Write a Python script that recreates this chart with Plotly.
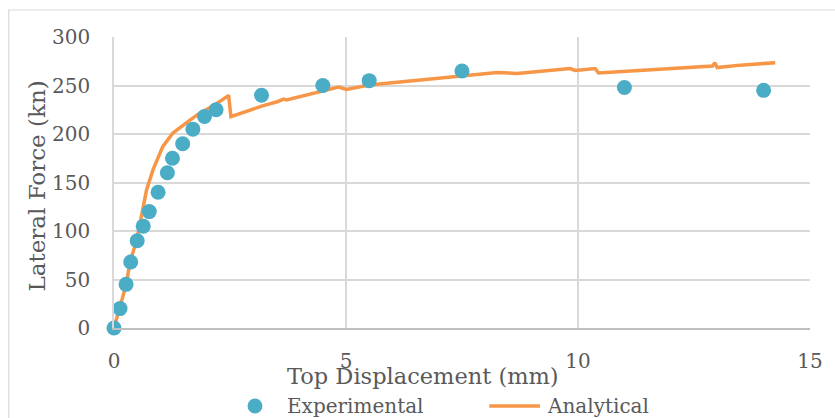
import plotly.graph_objects as go

# Experimental pushover test readings
exp_disp = [0, 0.13, 0.26, 0.36, 0.50, 0.63, 0.76, 0.95, 1.15, 1.26, 1.48, 1.70,
            1.95, 2.20, 3.18, 4.50, 5.50, 7.50, 11.0, 14.0]
exp_force = [0, 20, 45, 68, 90, 105, 120, 140, 160, 175, 190, 205,
             218, 225, 240, 250, 255, 265, 248, 245]

# Analytical (numerical model) capacity curve
ana_disp = [0, 0.13, 0.27, 0.34, 0.49, 0.59, 0.70, 0.84, 0.95, 1.05, 1.27, 1.45,
            1.63, 1.80, 1.98, 2.20, 2.45, 2.47, 2.52, 2.98, 3.20, 3.50, 3.66,
            3.72, 3.98, 4.49, 4.84, 5.01, 5.50, 6.05, 7.05, 7.50, 8.26, 8.69,
            9.33, 9.83, 9.94, 10.33, 10.37, 10.44, 11.0, 12.0, 12.9, 12.95,
            13.0, 13.5, 14.25]
ana_force = [0, 22, 46, 67, 91, 115, 142, 163, 175, 187, 201, 208,
             214, 220, 225, 231, 239, 240, 218, 226, 229, 233, 236,
             235, 238, 244, 248.5, 246, 250.5, 253, 258, 260.5, 263.5, 262.5,
             265, 267.5, 265.5, 267.5, 267.5, 263, 264.5, 267, 270, 273.5,
             268.5, 271, 273.5]

x_ticks = [0, 5, 10, 15]
y_ticks = [0, 50, 100, 150, 200, 250, 300]

EXP_COLOR = "#4BACC6"
ANA_COLOR = "#F79646"
TEXT_COLOR = "#595959"
GRID_COLOR = "#D9D9D9"
FONT = "DejaVu Serif"

fig = go.Figure()
fig.add_trace(go.Scatter(
    x=ana_disp, y=ana_force, mode="lines", name="Analytical",
    line=dict(color=ANA_COLOR, width=3.5), showlegend=False, cliponaxis=False,
))
fig.add_trace(go.Scatter(
    x=exp_disp, y=exp_force, mode="markers", name="Experimental",
    marker=dict(color=EXP_COLOR, size=15), showlegend=False, cliponaxis=False,
))

L, R, T, B = 114, 20, 37, 90
W, H = 835, 418
pw, ph = W - L - R, H - T - B


def px_x(px):
    return (px - L) / pw


def px_y(py):
    return (H - B - py) / ph


shapes = [
    # chart area border
    dict(type="rect", xref="paper", yref="paper",
         x0=px_x(8), x1=px_x(845), y0=px_y(425), y1=px_y(10),
         line=dict(color=GRID_COLOR, width=1.2), layer="below"),
    # legend glyphs
    dict(type="line", xref="paper", yref="paper",
         x0=px_x(492), x1=px_x(543), y0=px_y(406), y1=px_y(406),
         line=dict(color=ANA_COLOR, width=3.5)),
    dict(type="circle", xref="paper", yref="paper",
         x0=px_x(248.5), x1=px_x(263.5), y0=px_y(413.5), y1=px_y(398.5),
         fillcolor=EXP_COLOR, line=dict(width=0)),
]

annotations = [
    dict(text="Top Displacement (mm)", xref="paper", yref="paper",
         x=px_x(425), y=px_y(376), xanchor="center", yanchor="middle",
         showarrow=False, font=dict(family=FONT, size=22.5, color=TEXT_COLOR)),
    dict(text="Lateral Force (kn)", xref="paper", yref="paper",
         x=px_x(36), y=px_y(186), xanchor="center", yanchor="middle",
         textangle=-90, showarrow=False,
         font=dict(family=FONT, size=23, color=TEXT_COLOR)),
    dict(text="Experimental", xref="paper", yref="paper",
         x=px_x(286), y=px_y(406), xanchor="left", yanchor="middle",
         showarrow=False, font=dict(family=FONT, size=20, color=TEXT_COLOR)),
    dict(text="Analytical", xref="paper", yref="paper",
         x=px_x(548), y=px_y(406), xanchor="left", yanchor="middle",
         showarrow=False, font=dict(family=FONT, size=20, color=TEXT_COLOR)),
]

fig.update_layout(
    width=W, height=H,
    margin=dict(l=L, r=R, t=T, b=B, pad=0),
    paper_bgcolor="white", plot_bgcolor="white",
    font=dict(family=FONT, size=20, color=TEXT_COLOR),
    shapes=shapes, annotations=annotations,
    xaxis=dict(range=[0, 15], tickvals=x_ticks, ticktext=[str(v) for v in x_ticks],
               showgrid=True, gridcolor=GRID_COLOR, gridwidth=1.5,
               zeroline=False, showline=True, linecolor="#BFBFBF", linewidth=1.5,
               ticks="", ticklabelstandoff=14, fixedrange=True),
    yaxis=dict(range=[0, 300], tickvals=y_ticks, ticktext=[str(v) for v in y_ticks],
               showgrid=True, gridcolor=GRID_COLOR, gridwidth=1.5,
               zeroline=False, showline=True, linecolor=GRID_COLOR, linewidth=1.5,
               ticks="", ticklabelstandoff=18, fixedrange=True),
)

fig.write_html("out.html")
